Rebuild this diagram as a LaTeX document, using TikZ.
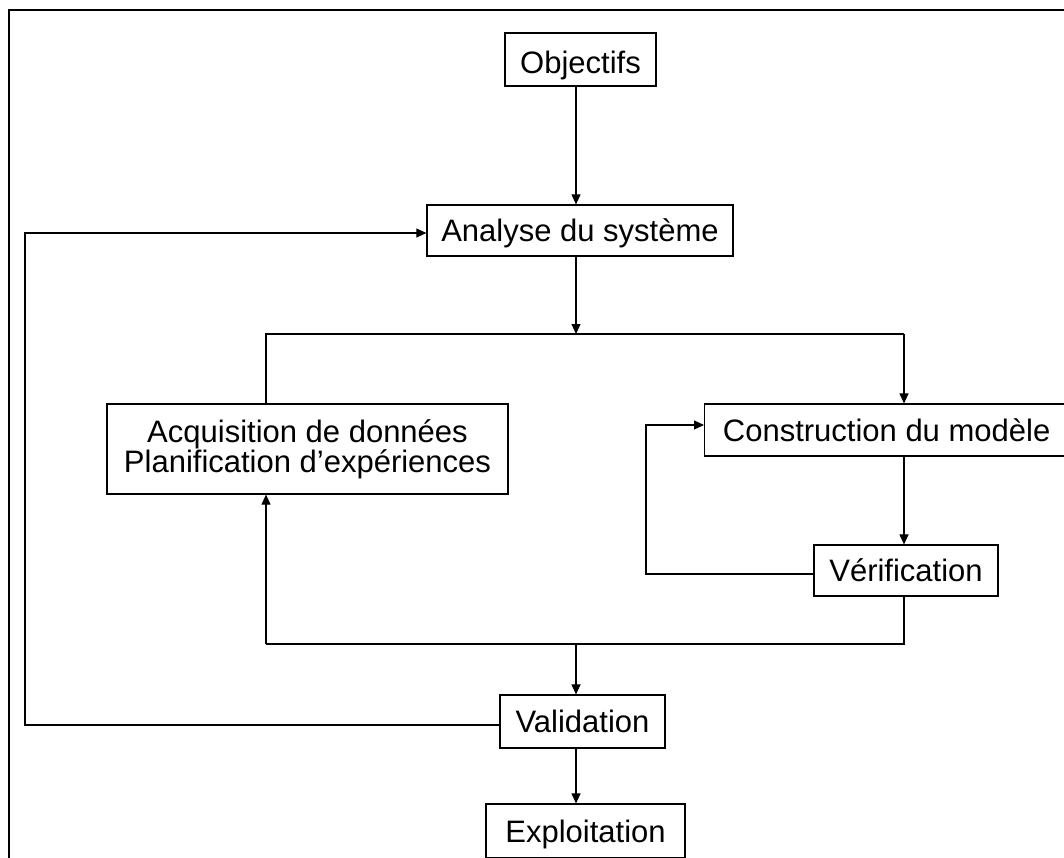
\documentclass[tikz,border=0pt]{standalone}
\usepackage{fontspec}
\setmainfont{Liberation Sans}
\usetikzlibrary{arrows.meta}
\begin{document}
\begin{tikzpicture}[x=1pt,y=-1pt,
  boxbase/.style={draw=black, line width=1.2pt, inner sep=0pt, fill=white,
    font=\fontsize{31}{27}\selectfont},
  box/.style={boxbase, text height=22pt, text depth=0pt},
  conn/.style={draw=black, line width=1.1pt},
  arr/.style={conn, -{Triangle[length=10pt,width=9pt]}},
  frame/.style={draw=black, line width=2.6pt}]
\useasboundingbox (0,0) rectangle (1064,857);
\clip (0,0) rectangle (1064,857);
% outer frame (cropped)
\draw[frame] (9,880) -- (9,10) -- (1090,10);
% nodes
\node[box, minimum width=151pt, minimum height=53pt, text height=27pt] (obj) at (580.5,59.5) {Objectifs};
\node[box, minimum width=306pt, minimum height=51pt] (ana) at (580,230.5) {Analyse du système};
\node[boxbase, minimum width=401pt, minimum height=90pt, align=center] (acq) at (307.5,449) {Acquisition de données\\Planification d’expériences};
\node[box, minimum width=364pt, minimum height=52pt, anchor=west] (con) at (704,430) {Construction du modèle};
\node[box, minimum width=184pt, minimum height=51pt] (ver) at (906,570.5) {Vérification};
\node[box, minimum width=165pt, minimum height=53pt] (val) at (582.5,721.5) {Validation};
\node[box, minimum width=199pt, minimum height=54pt] (expl) at (585.5,831) {Exploitation};
% routing coordinates
\coordinate (jt) at (576,334);
\coordinate (jb) at (576,644);
\coordinate (lt) at (266,334);
\coordinate (rt) at (904,334);
\coordinate (lb) at (266,644);
\coordinate (rb) at (904,644);
\coordinate (loopx) at (646,0);
\coordinate (fbx) at (25,0);
\coordinate (cin) at ([yshift=5pt]con.west);
\coordinate (vout) at ([yshift=-3.5pt]ver.west);
\coordinate (valout) at ([yshift=-3.5pt]val.west);
\coordinate (ain) at ([yshift=-2.5pt]ana.west);
% connectors
\draw[arr] (obj.south -| jt) -- (ana.north -| jt);
\draw[arr] (ana.south -| jt) -- (jt);
\draw[conn] (acq.north -| lt) -- (lt) -- (rt);
\draw[arr] (rt) -- (con.north -| rt);
\draw[arr] (con.south -| rt) -- (ver.north -| rt);
\draw[arr] (vout) -| (loopx |- cin) -- (cin);
\draw[conn] (ver.south -| rb) -- (rb) -- (lb);
\draw[arr] (lb) -- (acq.south -| lb);
\draw[arr] (jb) -- (val.north -| jb);
\draw[arr] (val.south -| jb) -- (expl.north -| jb);
\draw[arr] (valout) -| (fbx |- ain) -- (ain);
\end{tikzpicture}
\end{document}
